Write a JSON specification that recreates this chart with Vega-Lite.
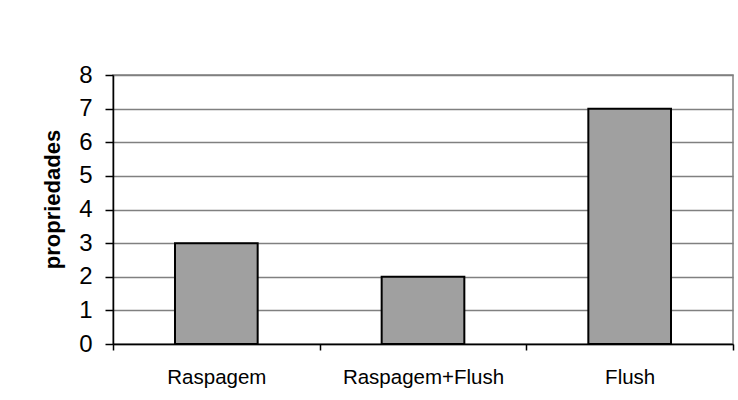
{
  "$schema": "https://vega.github.io/schema/vega-lite/v6.json",
  "width": 620,
  "height": 269,
  "autosize": {"type": "none"},
  "padding": {"left": 113, "top": 75, "right": 5, "bottom": 56},
  "background": "white",
  "config": {
    "font": "Liberation Sans",
    "view": {"stroke": "#808080", "strokeWidth": 1.5}
  },
  "data": {
    "values": [
      {"tratamento": "Raspagem", "propriedades": 3},
      {"tratamento": "Raspagem+Flush", "propriedades": 2},
      {"tratamento": "Flush", "propriedades": 7}
    ]
  },
  "mark": {"type": "bar", "fill": "#a0a0a0", "stroke": "black", "strokeWidth": 2, "width": {"band": 0.4}},
  "encoding": {
    "x": {
      "field": "tratamento",
      "type": "nominal",
      "sort": null,
      "scale": {"paddingInner": 0, "paddingOuter": 0},
      "axis": {
        "title": null,
        "labelAngle": 0,
        "labelFontSize": 20.5,
        "labelColor": "black",
        "labelPadding": 17,
        "domainColor": "black",
        "domainWidth": 1.5,
        "tickColor": "black",
        "tickWidth": 1.5,
        "tickSize": 6,
        "tickBand": "extent",
        "grid": false
      }
    },
    "y": {
      "field": "propriedades",
      "type": "quantitative",
      "scale": {"domain": [0, 8], "nice": false},
      "axis": {
        "title": "propriedades",
        "titleFontSize": 22,
        "titleFontWeight": "bold",
        "titleColor": "black",
        "titlePadding": 14,
        "titleY": 124,
        "values": [0, 1, 2, 3, 4, 5, 6, 7, 8],
        "labelFontSize": 24,
        "labelColor": "black",
        "labelPadding": 13,
        "domainColor": "black",
        "domainWidth": 1.5,
        "tickColor": "black",
        "tickWidth": 1.5,
        "tickSize": 8,
        "grid": true,
        "gridColor": "#808080",
        "gridWidth": 1.5
      }
    }
  }
}
